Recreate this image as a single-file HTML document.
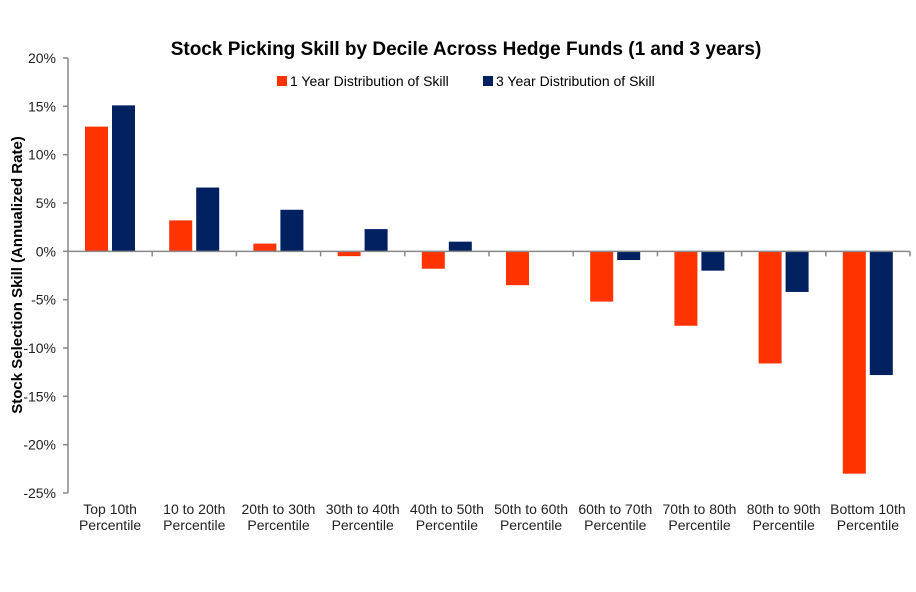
<!DOCTYPE html>
<html><head><meta charset="utf-8"><style>
body{margin:0;background:#fff;}
svg text{font-family:"Liberation Sans",Arial,sans-serif;}
</style></head><body>
<svg width="916" height="587">
<text x="466" y="55" text-anchor="middle" font-size="19" font-weight="bold">Stock Picking Skill  by Decile Across Hedge Funds (1 and 3 years)</text>
<g>
<rect x="277" y="76" width="10" height="10" fill="#ff3300"/>
<text x="290" y="86" font-size="14">1 Year Distribution of Skill</text>
<rect x="483" y="76" width="10" height="10" fill="#002060"/>
<text x="496" y="86" font-size="14">3 Year Distribution of Skill</text>
</g>
<text transform="translate(22,275) rotate(-90)" text-anchor="middle" font-size="15" font-weight="bold">Stock Selection Skill (Annualized Rate)</text>
<g id="plot"></g>
</svg>
<script>
const categories=[["Top 10th","Percentile"],["10 to 20th","Percentile"],["20th to 30th","Percentile"],["30th to 40th","Percentile"],["40th to 50th","Percentile"],["50th to 60th","Percentile"],["60th to 70th","Percentile"],["70th to 80th","Percentile"],["80th to 90th","Percentile"],["Bottom 10th","Percentile"]];
const oneYear=[12.9,3.2,0.8,-0.5,-1.8,-3.5,-5.2,-7.7,-11.6,-23.0];
const threeYear=[15.1,6.6,4.3,2.3,1.0,0,-0.9,-2.0,-4.2,-12.8];
const yTicks=[20,15,10,5,0,-5,-10,-15,-20,-25];
const NS="http://www.w3.org/2000/svg";
const g=document.getElementById('plot');
const x0=68,x1=910,yTop=58,yBot=493,vMax=20,vMin=-25;
const y=v=>yTop+(vMax-v)*(yBot-yTop)/(vMax-vMin);
const cw=(x1-x0)/categories.length;
function mk(t,a){const e=document.createElementNS(NS,t);for(const k in a)e.setAttribute(k,a[k]);g.appendChild(e);return e;}
let e=mk('line',{x1:x0,y1:yTop,x2:x0,y2:yBot,stroke:'#888','stroke-width':1.5});


yTicks.forEach(v=>{
 let t=mk('line',{x1:x0-5,y1:y(v),x2:x0,y2:y(v),stroke:'#888','stroke-width':1.5});
 
 
 let l=mk('text',{x:x0-12,y:y(v)+5,'text-anchor':'end','font-size':14,fill:'#222'});
 l.textContent=v+'%';
 
 
});
categories.forEach((c,i)=>{
 const cx=x0+i*cw;
 let r=mk('rect',{x:cx+17,y:Math.min(y(oneYear[i]),y(0)),width:23,height:Math.abs(y(oneYear[i])-y(0)),fill:'#ff3300'});
 
 
 let b=mk('rect',{x:cx+44,y:Math.min(y(threeYear[i]),y(0)),width:23,height:Math.abs(y(threeYear[i])-y(0)),fill:'#002060'});
 
 
 let t=mk('line',{x1:cx+cw,y1:y(0),x2:cx+cw,y2:y(0)+5,stroke:'#888','stroke-width':1.5});
 
 
 c.forEach((s,j)=>{
  let l=mk('text',{x:cx+cw/2,y:514+j*16,'text-anchor':'middle','font-size':14,fill:'#222'});
  l.textContent=s;
  
  
 });
});
let ax=mk('line',{x1:x0,y1:y(0),x2:x1,y2:y(0),stroke:'#888','stroke-width':1.5});


</script>
</body></html>
